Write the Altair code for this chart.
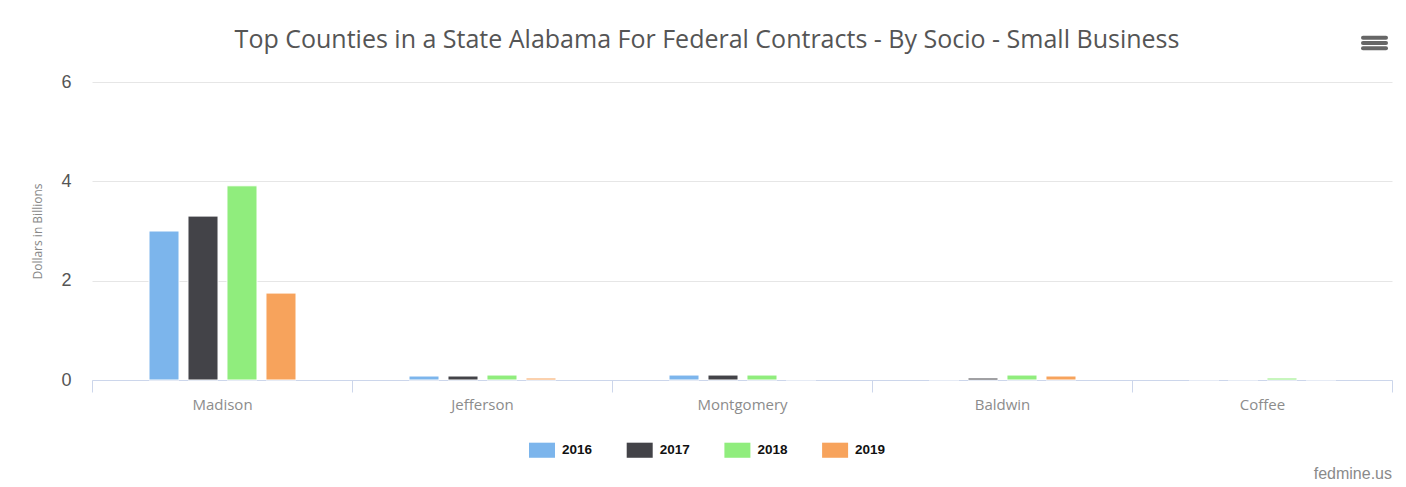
import altair as alt
import pandas as pd

counties = ["Madison", "Jefferson", "Montgomery", "Baldwin", "Coffee"]
years = ["2016", "2017", "2018", "2019"]
v2016 = [3.00, 0.08, 0.10, 0.01, 0.01]
v2017 = [3.30, 0.08, 0.10, 0.04, 0.01]
v2018 = [3.91, 0.10, 0.10, 0.10, 0.04]
v2019 = [1.75, 0.04, 0.01, 0.08, 0.01]
colors = ["#7cb5ec", "#434348", "#90ed7d", "#f7a35c"]
title_text = "Top Counties in a State Alabama For Federal Contracts - By Socio - Small Business"
credit_text = "fedmine.us"

rows = []
for y, vals in zip(years, [v2016, v2017, v2018, v2019]):
    for c, v in zip(counties, vals):
        rows.append({"county": c, "year": y, "value": v})
df = pd.DataFrame(rows)

bars = alt.Chart(df).mark_bar(stroke="white", strokeWidth=1).encode(
    x=alt.X("county:N", sort=counties, title=None,
            scale=alt.Scale(paddingInner=0, paddingOuter=0),
            axis=alt.Axis(labelAngle=0, labelFont="Open Sans", labelFontSize=15,
                          labelColor="#8c8c8c", domainColor="#ccd6eb", domainWidth=1,
                          tickColor="#ccd6eb", tickSize=12, tickBand="extent",
                          labelPadding=5, grid=False)),
    xOffset=alt.XOffset("year:N", sort=years,
                        scale=alt.Scale(range=[57, 204], paddingInner=0.23, paddingOuter=0)),
    y=alt.Y("value:Q", title="Dollars in Billions",
            scale=alt.Scale(domain=[0, 6]),
            axis=alt.Axis(values=[0, 2, 4, 6], labelFont="Liberation Sans", labelFontSize=18,
                          labelColor="#555555", labelPadding=21, ticks=False, domain=False,
                          gridColor="#e6e6e6", titleFont="Open Sans", titleFontSize=12,
                          titleColor="#888888", titleFontWeight="normal", titlePadding=16)),
    color=alt.Color("year:N", sort=years, scale=alt.Scale(domain=years, range=colors),
                    legend=alt.Legend(title=None, orient="none", direction="horizontal",
                                      legendX=437, legendY=355,
                                      symbolType="M-1,-0.58H1V0.58H-1Z", symbolSize=676,
                                      symbolStrokeWidth=0, symbolOpacity=1,
                                      labelFont="Liberation Sans", labelFontSize=13.5,
                                      labelFontWeight="bold", labelColor="#111111",
                                      labelOffset=7, columnPadding=33.7)),
)

menu_df = pd.DataFrame({"k": [0, 1, 2]})
menu = alt.Chart(menu_df).mark_rule(color="#666666", strokeWidth=4, strokeCap="round").encode(
    x=alt.value(1271), x2=alt.value(1294),
    y=alt.Y("k:O", axis=None, scale=alt.Scale(range=[-47, -31])),
)

credit = alt.Chart(pd.DataFrame({"t": [credit_text]})).mark_text(
    align="right", baseline="alphabetic", font="Liberation Sans", fontSize=16, color="#8a8a8a"
).encode(x=alt.value(1300), y=alt.value(397), text="t:N")

title = alt.Chart(pd.DataFrame({"t": [title_text]})).mark_text(
    align="center", baseline="alphabetic", font="Open Sans", fontSize=25, color="#555555"
).encode(x=alt.value(615), y=alt.value(-34), text="t:N")

chart = alt.layer(bars, menu, credit, title).resolve_scale(y="independent").properties(
    width=1300, height=298,
    autosize=alt.AutoSizeParams(type="none"),
    padding={"left": 84, "top": 74, "right": 6, "bottom": 104},
    background="white",
).configure_view(stroke=None)

chart.save("out.html", embed_options={"renderer": "svg", "actions": False})
